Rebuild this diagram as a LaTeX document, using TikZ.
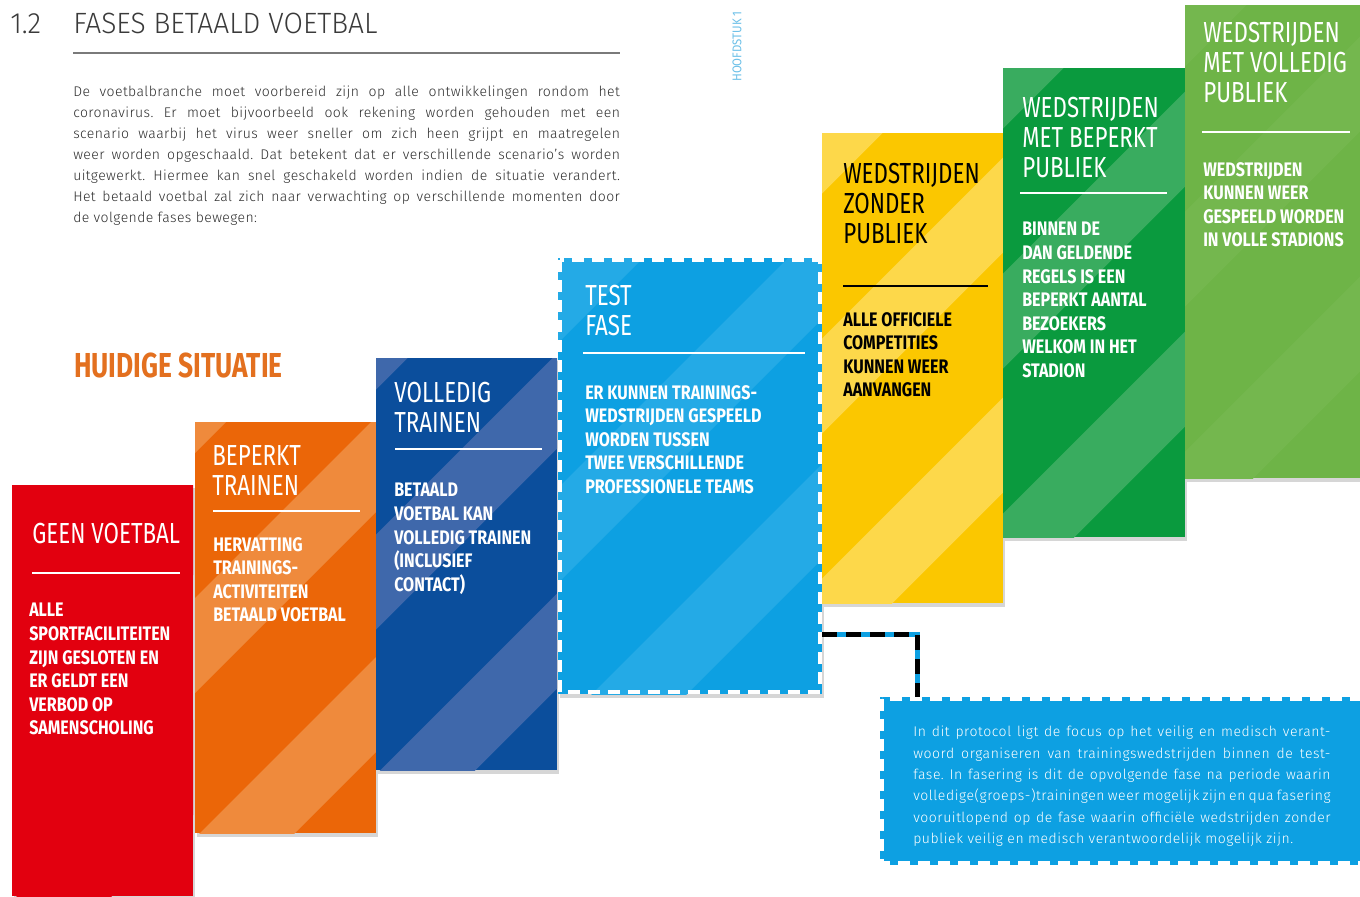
\documentclass[tikz,border=0pt]{standalone}
\usepackage{fontspec}
\setmainfont{Fira Sans}
\frenchspacing
\newfontfamily\ttlf[FakeStretch=0.77]{Fira Sans}
\newfontfamily\bdyf[FakeStretch=0.82]{Fira Sans Bold}
\newfontfamily\lgtf[LetterSpace=3]{Fira Sans Light}
\newfontfamily\infof[LetterSpace=4]{Fira Sans Light}
\newfontfamily\hfdf[FakeStretch=0.9]{Fira Sans}
\newfontfamily\headf[FakeStretch=0.96]{Fira Sans Light}
\newfontfamily\hdgf[FakeStretch=0.76]{Fira Sans Bold}
\definecolor{cRed}{HTML}{E2000F}
\definecolor{cOrange}{HTML}{EB6608}
\definecolor{cOrangeL}{HTML}{EF8A3C}
\definecolor{cBlue}{HTML}{0B4E9C}
\definecolor{cBlueL}{HTML}{3F68AB}
\definecolor{cTest}{HTML}{0DA0E2}
\definecolor{cTestL}{HTML}{24AAE6}
\definecolor{cYellow}{HTML}{FBC700}
\definecolor{cYellowL}{HTML}{FDD84A}
\definecolor{cGreen}{HTML}{0A9A3E}
\definecolor{cGreenL}{HTML}{39AC5F}
\definecolor{cLGreen}{HTML}{6EB447}
\definecolor{cLGreenL}{HTML}{74B74E}
\definecolor{cHuidig}{HTML}{E3701F}
\definecolor{cHoofd}{HTML}{6CC0E8}
\definecolor{cHead}{HTML}{3A3A3A}
\definecolor{cRule}{HTML}{7A7A7A}
\definecolor{cPara}{HTML}{2E2E2E}
\newcommand\phasecol[7]{% name, x0, y0, x1, y1, fill, stripe
  \fill[black, opacity=0.16] (#2+2,#3+3) rectangle (#4+2,#5+4);
  \node[colbox, fill=#6, minimum width={(#4-#2)*0.75pt}, minimum height={(#5-#3)*0.75pt},
    path picture={\foreach \a in {-1600,-1360,...,1400}
      \fill[#7] (\a,1000) -- ++(95,0) -- ++(1400,-1400) -- ++(-95,0) -- cycle;}]
    (#1) at (#2,#3) {};}
\begin{document}
\begin{tikzpicture}[x=0.75pt,y=-0.75pt,
  colbox/.style={anchor=north west, inner sep=0pt, outer sep=0pt, draw=none},
  ttl/.style={anchor=north west, inner sep=0pt, align=left, text=white,
    font=\ttlf\fontsize{21.75}{22.5}\selectfont},
  bdy/.style={anchor=north west, inner sep=0pt, align=left, text=white,
    font=\bdyf\fontsize{14.7}{17.7}\selectfont},
  sepw/.style={white, line width=2.2pt},
  para/.style={anchor=north west, inner sep=0pt, align=left, text=cPara,
    font=\lgtf\fontsize{10.5}{15.75}\selectfont},
  conn/.style={line width=3.75pt, cTest},
  connd/.style={line width=3.75pt, black, dash pattern=on 11pt off 7pt},
  wdash/.style={white, line width=3pt, dash pattern=on 9pt off 6pt}]
\useasboundingbox[fill=white] (0,0) rectangle (1360,896);

% heading
\node[anchor=base west, inner sep=0pt, text=cHead, font=\headf\fontsize{22}{24}\selectfont] (num) at (10,33) {1.2};
\node[anchor=base west, inner sep=0pt, text=cHead, font=\headf\fontsize{22}{24}\selectfont] (head) at (73,33) {FASES BETAALD VOETBAL};
\draw[cRule, line width=1.2pt] (73,53) -- (620,53);
\node[anchor=west, inner sep=0pt, rotate=90, text=cHoofd, font=\hfdf\fontsize{9.5}{10}\selectfont] (hfd) at (737,82) {HOOFDSTUK 1};

\node[para] (intro) at (73,86) {%
\makebox[410pt][s]{De voetbalbranche moet voorbereid zijn op alle ontwikkelingen rondom het}\\
\makebox[410pt][s]{coronavirus. Er moet bijvoorbeeld ook rekening worden gehouden met een}\\
\makebox[410pt][s]{scenario waarbij het virus weer sneller om zich heen grijpt en maatregelen}\\
\makebox[410pt][s]{weer worden opgeschaald. Dat betekent dat er verschillende scenario’s worden}\\
\makebox[410pt][s]{uitgewerkt. Hiermee kan snel geschakeld worden indien de situatie verandert.}\\
\makebox[410pt][s]{Het betaald voetbal zal zich naar verwachting op verschillende momenten door}\\
de volgende fases bewegen:};

\node[anchor=north west, inner sep=0pt, text=cHuidig, font=\hdgf\fontsize{26}{28}\selectfont] (huidig) at (74,353) {HUIDIGE SITUATIE};

% columns
\phasecol{red}{12}{485}{193}{896}{cRed}{cRed}
\phasecol{orange}{195}{422}{376}{833}{cOrange}{cOrangeL}
\phasecol{blue}{376}{358}{557}{770}{cBlue}{cBlueL}
\phasecol{test}{558}{258}{822}{694}{cTest}{cTestL}
\draw[wdash] ([shift={(2,2)}]test.north west) rectangle ([shift={(-2,-2)}]test.south east);
\phasecol{yellow}{822}{133}{1003}{603}{cYellow}{cYellowL}
\phasecol{green}{1003}{68}{1185}{537}{cGreen}{cGreenL}
\phasecol{lgreen}{1185}{5}{1365}{478}{cLGreen}{cLGreenL}

% texts
\node[ttl] (t1) at (32,523) {GEEN VOETBAL};
\draw[sepw] (32,573) -- (180,573);
\node[bdy] (b1) at (29,603) {ALLE\\SPORTFACILITEITEN\\ZIJN GESLOTEN EN\\ER GELDT EEN\\VERBOD OP\\SAMENSCHOLING};

\node[ttl] (t2) at (212,445) {BEPERKT\\TRAINEN};
\draw[sepw] (213,511) -- (360,511);
\node[bdy] (b2) at (213,537) {HERVATTING\\TRAININGS-\\ACTIVITEITEN\\BETAALD VOETBAL};

\node[ttl] (t3) at (394,382) {VOLLEDIG\\TRAINEN};
\draw[sepw] (395,449) -- (542,449);
\node[bdy] (b3) at (394,483) {BETAALD\\VOETBAL KAN\\VOLLEDIG TRAINEN\\(INCLUSIEF\\CONTACT)};

\node[ttl] (t4) at (585,285) {TEST\\FASE};
\draw[sepw] (583,353) -- (805,353);
\node[bdy] (b4) at (585,385) {ER KUNNEN TRAININGS-\\WEDSTRIJDEN GESPEELD\\WORDEN TUSSEN\\TWEE VERSCHILLENDE\\PROFESSIONELE TEAMS};

\node[ttl, text=black] (t5) at (843,163) {WEDSTRIJDEN\\ZONDER\\PUBLIEK};
\draw[sepw, black] (843,286) -- (988,286);
\node[bdy, text=black] (b5) at (843,312) {ALLE OFFICIELE\\COMPETITIES\\KUNNEN WEER\\AANVANGEN};

\node[ttl] (t6) at (1022,97) {WEDSTRIJDEN\\MET BEPERKT\\PUBLIEK};
\draw[sepw] (1020,193) -- (1167,193);
\node[bdy] (b6) at (1022,222) {BINNEN DE\\DAN GELDENDE\\REGELS IS EEN\\BEPERKT AANTAL\\BEZOEKERS\\WELKOM IN HET\\STADION};

\node[ttl] (t7) at (1203,22) {WEDSTRIJDEN\\MET VOLLEDIG\\PUBLIEK};
\draw[sepw] (1202,132) -- (1350,132);
\node[bdy] (b7) at (1203,162) {WEDSTRIJDEN\\KUNNEN WEER\\GESPEELD WORDEN\\IN VOLLE STADIONS};

% info box and connector
\coordinate (cc) at (917,634);
\draw[conn] (test.east |- cc) -| (917,697);
\draw[connd] (test.east |- cc) -| (917,697);
\node[colbox, fill=cTest, minimum width=375pt, minimum height=126pt] (info) at (880,697) {};
\draw[wdash] ([shift={(2,2)}]info.north west) rectangle ([shift={(-2,-2)}]info.south east);
\node[para, text=white, font=\infof\fontsize{10.5}{16}\selectfont] (infotext) at (913,726) {%
\makebox[313pt][s]{In dit protocol ligt de focus op het veilig en medisch verant-}\\
\makebox[313pt][s]{woord organiseren van trainingswedstrijden binnen de test-}\\
\makebox[313pt][s]{fase. In fasering is dit de opvolgende fase na periode waarin}\\
\makebox[313pt][s]{volledige(groeps-)trainingen weer mogelijk zijn en qua fasering}\\
\makebox[313pt][s]{vooruitlopend op de fase waarin officiële wedstrijden zonder}\\
publiek veilig en medisch verantwoordelijk mogelijk zijn.};
\end{tikzpicture}
\end{document}
